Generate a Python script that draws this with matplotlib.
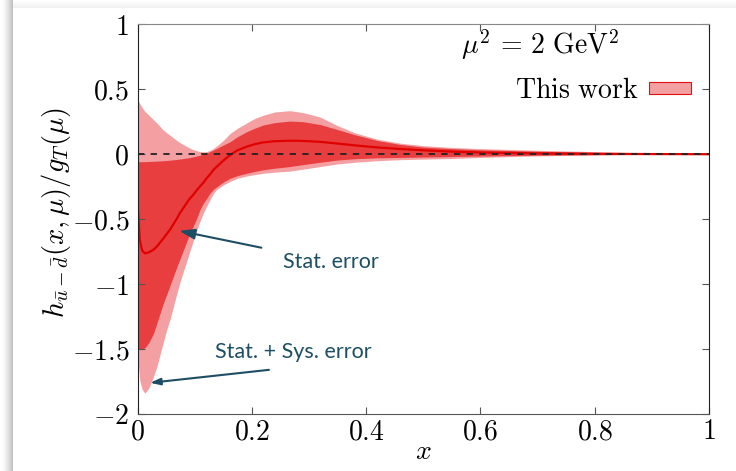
import numpy as np
import matplotlib
matplotlib.use("Agg")
import matplotlib.pyplot as plt
from matplotlib.patches import Patch

plt.rcParams["mathtext.fontset"] = "cm"
plt.rcParams["font.family"] = ["DejaVu Serif"]

# values
x = [0, 0.004, 0.008, 0.013, 0.02, 0.028, 0.034, 0.045, 0.051, 0.057, 0.069, 0.074,
     0.09, 0.098, 0.104, 0.109, 0.115, 0.121, 0.127, 0.133, 0.139, 0.15, 0.162, 0.175,
     0.191, 0.205, 0.22, 0.24, 0.267, 0.29, 0.32, 0.35, 0.38, 0.42, 0.46, 0.50, 0.55,
     0.60, 0.70, 0.80, 0.90, 1.0]
central = [-0.366, -0.66, -0.74, -0.763, -0.755, -0.735, -0.71, -0.65, -0.615, -0.58,
           -0.495, -0.455, -0.35, -0.31, -0.275, -0.25, -0.22, -0.185, -0.155, -0.12,
           -0.095, -0.05, -0.006, 0.03, 0.058, 0.077, 0.091, 0.10, 0.104, 0.102, 0.095,
           0.082, 0.068, 0.052, 0.04, 0.03, 0.02, 0.013, 0.006, 0.003, 0.001, 0.0]
stat_lo = [-1.49, -1.50, -1.50, -1.49, -1.45, -1.38, -1.30, -1.15, -1.08, -1.01,
           -0.866, -0.81, -0.63, -0.55, -0.49, -0.43, -0.38, -0.34, -0.30, -0.27,
           -0.25, -0.215, -0.186, -0.165, -0.147, -0.133, -0.12, -0.108, -0.095, -0.08,
           -0.062, -0.045, -0.035, -0.028, -0.025, -0.022, -0.018, -0.014, -0.008,
           -0.004, -0.001, 0.0]
stat_hi = [-0.055, -0.058, -0.058, -0.057, -0.056, -0.054, -0.053, -0.05, -0.048,
           -0.046, -0.04, -0.037, -0.027, -0.02, -0.014, -0.008, 0.0, 0.008, 0.02,
           0.032, 0.045, 0.07, 0.096, 0.135, 0.173, 0.20, 0.225, 0.243, 0.255, 0.25,
           0.228, 0.19, 0.15, 0.105, 0.075, 0.055, 0.043, 0.034, 0.023, 0.014, 0.005, 0.0]
tot_lo = [-1.55, -1.74, -1.81, -1.84, -1.80, -1.71, -1.635, -1.45, -1.353, -1.27,
          -1.07, -0.99, -0.77, -0.66, -0.58, -0.52, -0.455, -0.40, -0.35, -0.30,
          -0.27, -0.237, -0.21, -0.185, -0.168, -0.157, -0.147, -0.138, -0.13, -0.115,
          -0.095, -0.075, -0.062, -0.05, -0.042, -0.038, -0.033, -0.025, -0.013,
          -0.006, -0.002, 0.0]
tot_hi = [0.42, 0.39, 0.36, 0.33, 0.30, 0.265, 0.24, 0.186, 0.165, 0.145, 0.105,
          0.09, 0.05, 0.034, 0.026, 0.021, 0.018, 0.02, 0.03, 0.045, 0.065, 0.105,
          0.16, 0.20, 0.24, 0.275, 0.30, 0.325, 0.335, 0.32, 0.285, 0.22, 0.165,
          0.115, 0.085, 0.066, 0.052, 0.043, 0.03, 0.02, 0.008, 0.0]

xticks = [0, 0.2, 0.4, 0.6, 0.8, 1]
xticklabels = ["$0$", "$0.2$", "$0.4$", "$0.6$", "$0.8$", "$1$"]
yticks = [-2, -1.5, -1, -0.5, 0, 0.5, 1]
yticklabels = ["$-2$", "$-1.5$", "$-1$", "$-0.5$", "$0$", "$0.5$", "$1$"]

light = "#f4a0a2"
dark = "#e83e40"
note = "#1d4e63"

fig = plt.figure(figsize=(7.36, 4.71), dpi=100)

# card shadow behind everything
W, H = 736, 471
img = np.full((H, W, 3), 255.0)
cols = np.arange(W)
rows = np.arange(H)
left = np.clip((cols - 1) / 12.0, 0, 1) ** 1.5
img[:, :13, :] = (255 - 70 * left[:13])[None, :, None]
topfade = 255 - 14 * np.clip(rows[:8] / 7.0, 0, 1)
img[:8, 13:, :] = topfade[:, None, None]
bg = fig.add_axes([0, 0, 1, 1], zorder=-10)
bg.imshow(img.astype(np.uint8), aspect="auto")
bg.axis("off")

ax = fig.add_axes([137.5 / W, 1 - 414 / H, 571.5 / W, 389.7 / H])
ax.patch.set_alpha(0)
ax.fill_between(x, tot_lo, tot_hi, color=light, lw=0)
ax.fill_between(x, stat_lo, stat_hi, color=dark, lw=0)
ax.plot(x, central, color="#e00000", lw=1.6)
ax.axhline(0, color="#222222", lw=1.3, ls=(0, (3.5, 3.5)))

ax.set_xlim(0, 1)
ax.set_ylim(-2, 1)
ax.set_xticks(xticks)
ax.set_xticklabels(xticklabels)
ax.set_yticks(yticks)
ax.set_yticklabels(yticklabels)
ax.tick_params(direction="in", length=5, width=0.8, labelsize=20, top=True, right=True,
               color="#555555")
ax.tick_params(axis="y", pad=6)
ax.tick_params(axis="x", pad=3)
for s in ["left", "right"]:
    ax.spines[s].set_color("#222222")
ax.spines["top"].set_color("#888888")
ax.spines["bottom"].set_color("#555555")

ax.set_xlabel("$x$", fontsize=20, labelpad=-5)
ax.set_ylabel(r"$h_{\bar{u}-\bar{d}}(x,\mu)/g_T(\mu)$", fontsize=20.5)
ax.yaxis.set_label_coords(-0.113, 0.517)

ax.text(0.704, 0.947, r"$\mu^2\,=\,2\ \mathrm{GeV}^2$", transform=ax.transAxes,
        fontsize=20, ha="center", va="center")

handle = Patch(facecolor=light, edgecolor="#e01010", lw=0.8)
ax.legend([handle], [r"$\mathrm{This\ work}$"], loc="upper right",
          bbox_to_anchor=(0.968, 0.865), frameon=False, markerfirst=False,
          fontsize=20, handlelength=1.5, handleheight=0.3, handletextpad=0.4,
          borderpad=0, borderaxespad=0)

ax.annotate("Stat. error", xy=(0.073, -0.59), xytext=(0.255, -0.83),
            fontsize=15.5, color=note, family="Lato", ha="left", va="center",
            arrowprops=dict(arrowstyle="-|>,head_length=0.6,head_width=0.2",
                            color=note, lw=1.5, shrinkA=14, shrinkB=0))
ax.annotate("Stat. + Sys. error", xy=(0.022, -1.75), xytext=(0.135, -1.52),
            fontsize=15.5, color=note, family="Lato", ha="left", va="center")
ax.annotate("", xy=(0.022, -1.76), xytext=(0.23, -1.66),
            arrowprops=dict(arrowstyle="-|>,head_length=0.6,head_width=0.2",
                            color=note, lw=1.5, shrinkA=0, shrinkB=0))

fig.savefig("out.png", dpi=100)
